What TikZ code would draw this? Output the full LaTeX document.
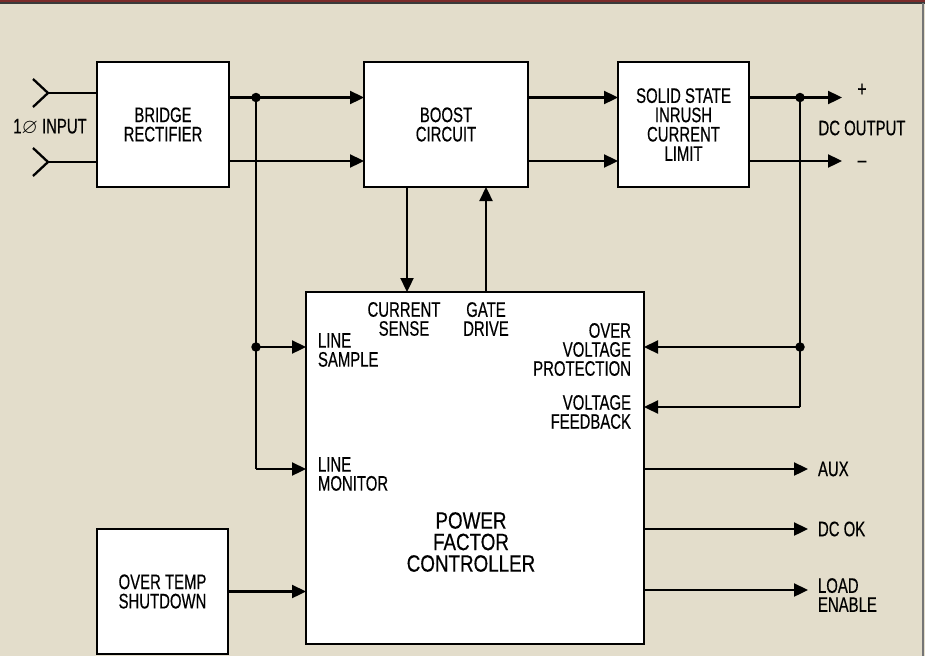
\documentclass[tikz,border=0pt]{standalone}
\usepackage{amsmath, amssymb}
\usepackage{fontspec}
\setmainfont{Liberation Sans}[FakeStretch=0.71, FakeBold=0.4]
\newfontfamily\pfcfont{Liberation Sans}[FakeStretch=0.8, FakeBold=0.4]
\usepackage{tikz}
\usetikzlibrary{arrows.meta}
\usetikzlibrary{positioning}
\usetikzlibrary{calc}

\definecolor{paper}{HTML}{E3DDCB}
\definecolor{band}{HTML}{7B2B2A}
\definecolor{edge}{HTML}{3A3A3A}

\begin{document}
\begin{tikzpicture}[x=1pt, y=-1pt,
    every node/.style={inner sep=0pt, outer sep=0pt},
    box/.style={draw=black, fill=white, line width=2.4pt, align=center,
      font=\fontsize{21}{19.3}\selectfont},
    lbl/.style={align=center, font=\fontsize{21}{19}\selectfont},
    wire/.style={line width=2.3pt},
    arr/.style={line width=2.3pt, -{Triangle[length=14pt, width=13pt]}},
    dot/.style={circle, fill=black, minimum size=9.5pt}]

        % Paper and frame
        \useasboundingbox (0,0) rectangle (925,656);
        \fill[paper] (0,0) rectangle (925,656);
        \fill[band] (0,0) rectangle (925,2.5);
        \draw[edge, line width=1.5pt] (0,3.2) -- (925,3.2);
        \draw[edge!70, line width=2pt] (923,3) -- (923,656);

        % Blocks
        \node[box, minimum width=132pt, minimum height=125pt] (bridge) at (163,124.5) {BRIDGE\\RECTIFIER};
        \node[box, minimum width=164pt, minimum height=125pt] (boost) at (446,124.5) {BOOST\\CIRCUIT};
        \node[box, minimum width=131pt, minimum height=125pt] (inrush) at (683.5,124.5) {SOLID STATE\\INRUSH\\CURRENT\\LIMIT};
        \node[box, minimum width=338pt, minimum height=352pt] (pfc) at (475,468) {};
        \node[box, minimum width=131pt, minimum height=125pt] (temp) at (162.5,591.5) {OVER TEMP\\SHUTDOWN};

        % Rows of the main path
        \coordinate (hi) at (0,97.5);
        \coordinate (lo) at (0,161);

        % Input pins
        \coordinate (in1) at (48,93);
        \coordinate (in2) at (48,162);
        \foreach \p in {in1,in2} {
          \draw[wire] ([shift={(-15,-14)}]\p) -- (\p) -- ([shift={(-15,14)}]\p);
          \draw[wire] (\p) -- (bridge.west |- \p);
        }
        \node[lbl] (input) at (50,127) {1$\varnothing$ INPUT};

        % Bridge to boost, with the line tap
        \coordinate (tap) at (256,97.5);
        \coordinate (ls) at (256,347);
        \coordinate (lm) at (256,469);
        \draw[arr] (bridge.east |- hi) -- (boost.west |- hi);
        \draw[arr] (bridge.east |- lo) -- (boost.west |- lo);

        % Boost to inrush limit
        \draw[arr] (boost.east |- hi) -- (inrush.west |- hi);
        \draw[arr] (boost.east |- lo) -- (inrush.west |- lo);

        % DC output
        \coordinate (vtap) at (800,97.5);
        \coordinate (ovp) at (800,347);
        \coordinate (vfb) at (800,407);
        \coordinate (outp) at (842,97.5);
        \coordinate (outn) at (842,161);
        \draw[arr] (inrush.east |- hi) -- (outp);
        \draw[arr] (inrush.east |- lo) -- (outn);
        \node[lbl, font=\fontsize{22}{22}\selectfont] (plus) at (862,90) {+};
        \node[lbl, font=\fontsize{22}{22}\selectfont] (minus) at (862,164) {--};
        \node[lbl] (dcout) at (862,128) {DC OUTPUT};

        % Line sample and line monitor
        \draw[wire] (tap) -- (lm);
        \draw[arr] (ls) -- (pfc.west |- ls);
        \draw[arr] (lm) -- (pfc.west |- lm);

        % Voltage sense from the output
        \draw[wire] (vtap) -- (vfb);
        \draw[arr] (ovp) -- (pfc.east |- ovp);
        \draw[arr] (vfb) -- (pfc.east |- vfb);

        % Current sense and gate drive
        \coordinate (cs) at (407,0);
        \coordinate (gd) at (486,0);
        \draw[arr] (boost.south -| cs) -- (pfc.north -| cs);
        \draw[arr] (pfc.north -| gd) -- (boost.south -| gd);

        % Over temp
        \draw[arr] (temp.east) -- (pfc.west |- temp.east);

        % Controller outputs
        \foreach \name/\yy in {aux/469, dcok/529, load/590} {
          \coordinate (\name) at (808,\yy);
          \draw[arr] (pfc.east |- \name) -- (\name);
        }
        \node[lbl, anchor=west] (auxl) at (818,469) {AUX};
        \node[lbl, anchor=west] (dcokl) at (818,529) {DC OK};
        \node[lbl, anchor=west, align=left] (loadl) at (818,595) {LOAD\\ENABLE};

        % Junction dots
        \foreach \p in {tap,ls,vtap,ovp} {
          \node[dot] at (\p) {};
        }

        % Controller pin names
        \node[lbl] (csl) at (404,319) {CURRENT\\SENSE};
        \node[lbl] (gdl) at (486,319) {GATE\\DRIVE};
        \node[lbl, anchor=west, align=left] (lsl) at (318,350) {LINE\\SAMPLE};
        \node[lbl, anchor=west, align=left] (lml) at (318,474) {LINE\\MONITOR};
        \node[lbl, anchor=east, align=right] (ovpl) at (631,349.5) {OVER\\VOLTAGE\\PROTECTION};
        \node[lbl, anchor=east, align=right] (vfbl) at (631,412) {VOLTAGE\\FEEDBACK};
        \node[lbl, font=\pfcfont\fontsize{23.5}{21.5}\selectfont] (pfcl) at (471,542) {POWER\\FACTOR\\CONTROLLER};

      \end{tikzpicture}
\end{document}
